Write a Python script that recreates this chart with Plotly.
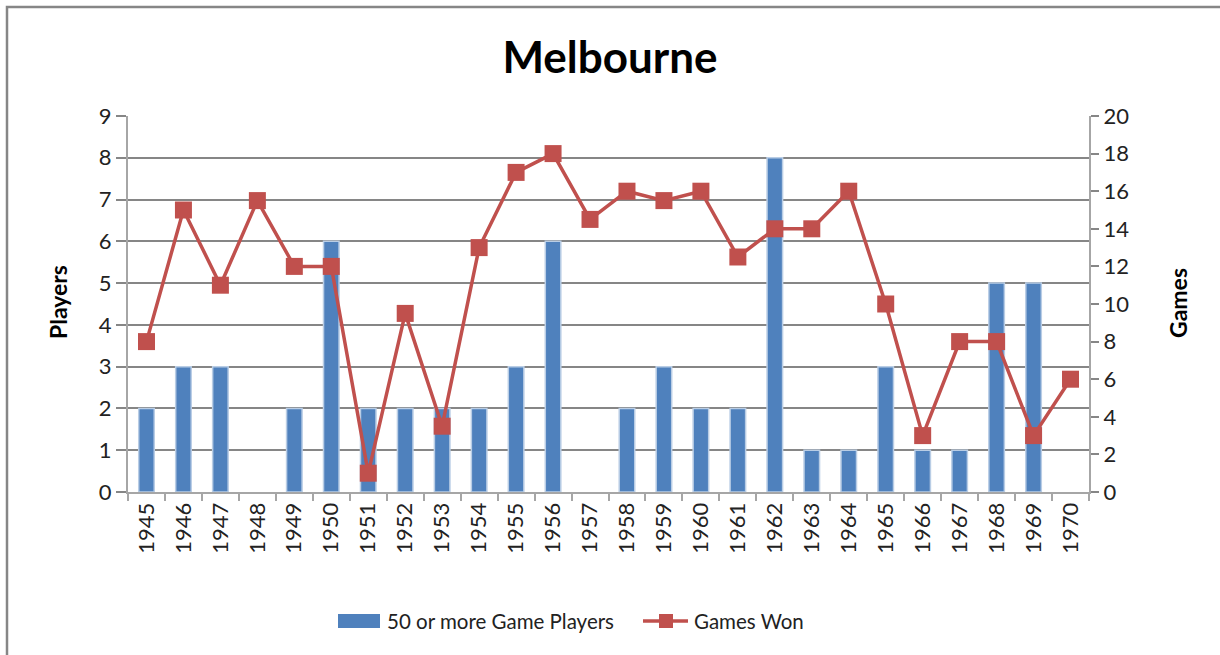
import plotly.graph_objects as go

years = [str(y) for y in range(1945, 1971)]
players = [2, 3, 3, 0, 2, 6, 2, 2, 2, 2, 3, 6, 0, 2, 3, 2, 2, 8, 1, 1, 3, 1, 1, 5, 5, 0]
games_won = [8, 15, 11, 15.5, 12, 12, 1, 9.5, 3.5, 13, 17, 18, 14.5, 16, 15.5, 16, 12.5, 14, 14, 16, 10, 3, 8, 8, 3, 6]

FONT = "Lato"
GRID = "#868686"
AXIS = "#A6A6A6"
BLUE = "#4F81BD"
RED = "#C0504D"

# plot area in pixels (for paper-coordinate decorations)
PX0, PW = 128, 961
PY0, PH = 492, 376


def px(x):
    return (x - PX0) / PW


def py(y):
    return (PY0 - y) / PH


fig = go.Figure()
fig.add_trace(go.Bar(
    x=years, y=players, name="50 or more Game Players",
    marker=dict(color=BLUE, line=dict(color="#B9CDE5", width=[1.5 if v else 0 for v in players])),
    width=0.42, yaxis="y", showlegend=False,
))
fig.add_trace(go.Scatter(
    x=years, y=games_won, name="Games Won", mode="lines+markers",
    line=dict(color=RED, width=3.5),
    marker=dict(symbol="square", size=17, color=RED),
    yaxis="y2", showlegend=False,
))

annotations = [
    dict(text="<b>Players</b>", x=px(58), y=py(302), xref="paper", yref="paper",
         textangle=-90, showarrow=False, font=dict(size=23, family=FONT, color="black"),
         xanchor="center", yanchor="middle"),
    dict(text="<b>Games</b>", x=px(1178), y=py(303), xref="paper", yref="paper",
         textangle=-90, showarrow=False, font=dict(size=23, family=FONT, color="black"),
         xanchor="center", yanchor="middle"),
    dict(text="50 or more Game Players", x=px(385), y=py(621), xref="paper", yref="paper",
         showarrow=False, font=dict(size=20.5, family=FONT, color="#222222"),
         xanchor="left", yanchor="middle"),
    dict(text="Games Won", x=px(692), y=py(621), xref="paper", yref="paper",
         showarrow=False, font=dict(size=20.5, family=FONT, color="#222222"),
         xanchor="left", yanchor="middle"),
]

shapes = [
    dict(type="rect", xref="paper", yref="paper",
         x0=px(7), x1=px(1230), y0=py(665), y1=py(7),
         line=dict(color="#868686", width=2.5), fillcolor="rgba(0,0,0,0)", layer="below"),
    # legend icons
    dict(type="rect", xref="paper", yref="paper", x0=px(338), x1=px(380), y0=py(628), y1=py(614),
         line=dict(width=0), fillcolor=BLUE),
    dict(type="line", xref="paper", yref="paper", x0=px(643), x1=px(688), y0=py(621), y1=py(621),
         line=dict(color=RED, width=3.5)),
    dict(type="rect", xref="paper", yref="paper", x0=px(659), x1=px(673), y0=py(628), y1=py(614),
         line=dict(width=0), fillcolor=RED),
]

fig.update_layout(
    width=1220, height=655,
    margin=dict(l=PX0, r=1220 - PX0 - PW, t=116, b=655 - PY0, autoexpand=False),
    paper_bgcolor="white", plot_bgcolor="white",
    font=dict(family=FONT, color="#222222", size=19),
    title=dict(text="<b>Melbourne</b>", x=0.5, xanchor="center", y=0.912, yanchor="middle",
               font=dict(family=FONT, size=44, color="black")),
    showlegend=False,
    bargap=0.5,
    xaxis=dict(
        type="category", range=[-0.5, 25.5], tickangle=-90, showgrid=False,
        showline=True, linecolor=AXIS, linewidth=2, automargin=False,
        ticks="outside", tickson="boundaries", ticklen=7, tickcolor=AXIS, tickwidth=2,
        tickfont=dict(size=22, family=FONT, color="#222222"),
    ),
    yaxis=dict(
        range=[0, 9], dtick=1, showgrid=True, gridcolor=GRID, gridwidth=2,
        showline=True, linecolor=AXIS, linewidth=2, automargin=False,
        ticks="outside", ticklen=10, tickcolor=GRID, tickwidth=2,
        zeroline=False,
        tickfont=dict(size=22, family=FONT, color="#222222"),
    ),
    yaxis2=dict(
        range=[0, 20], dtick=2, overlaying="y", side="right", showgrid=False,
        showline=True, linecolor=AXIS, linewidth=2, automargin=False,
        ticks="outside", ticklen=8, tickcolor=GRID, tickwidth=2,
        zeroline=False,
        tickfont=dict(size=22, family=FONT, color="#222222"),
    ),
    annotations=annotations,
    shapes=shapes,
)

fig.write_html("out.html", config={"displayModeBar": False},
               post_script="document.body.style.margin='0px';document.body.style.overflow='hidden';")
